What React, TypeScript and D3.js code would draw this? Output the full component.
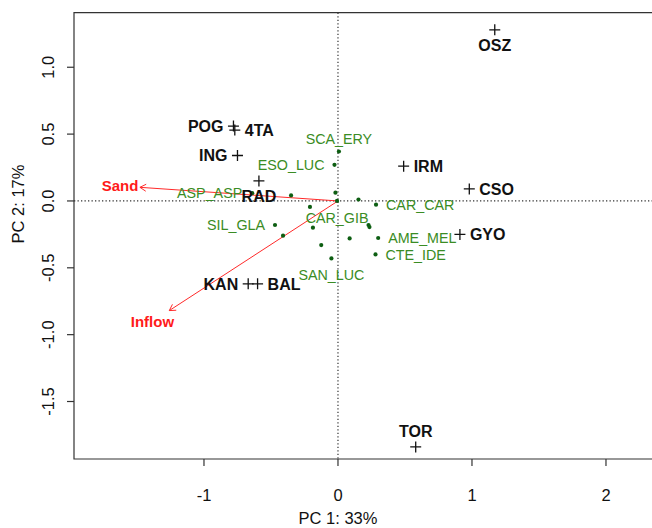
import React from "react";
import * as d3 from "d3";

// ---- data ----
const siteNames = ["OSZ", "POG", "4TA", "ING", "RAD", "IRM", "CSO", "GYO", "KAN", "BAL", "TOR"];
const siteX = [1.17, -0.78, -0.77, -0.75, -0.59, 0.49, 0.98, 0.91, -0.67, -0.60, 0.58];
const siteY = [1.28, 0.56, 0.53, 0.34, 0.15, 0.26, 0.09, -0.25, -0.62, -0.62, -1.84];
const siteLabelPos = [1, 2, 4, 2, 1, 4, 4, 4, 2, 4, 3];

const speciesNames = [
  "SCA_ERY", "ESO_LUC", "", "", "ASP_ASP", "", "", "CAR_CAR", "SIL_GLA", "", "",
  "", "", "", "AME_MEL", "", "CTE_IDE", "SAN_LUC", "CAR_GIB",
];
const speciesX = [
  0.007, -0.026, -0.019, -0.35, -0.64, 0.153, -0.209, 0.284, -0.47, -0.187, -0.41,
  0.228, 0.235, 0.087, 0.30, -0.125, 0.28, -0.049, -0.007,
];
const speciesY = [
  0.37, 0.27, 0.062, 0.041, 0.058, 0.011, -0.045, -0.028, -0.18, -0.20, -0.26,
  -0.18, -0.195, -0.28, -0.277, -0.33, -0.40, -0.43, 0.0,
];
const speciesLabelPos = [3, 2, 0, 0, 2, 0, 0, 4, 2, 0, 0, 0, 0, 0, 4, 0, 4, 1, 1];

const envNames = ["Sand", "Inflow"];
const envX = [-1.478, -1.259];
const envY = [0.102, -0.82];

const xTicks = [-1, 0, 1, 2];
const yTicks = [-1.5, -1.0, -0.5, 0.0, 0.5, 1.0];
const xTitle = "PC 1: 33%";
const yTitle = "PC 2: 17%";

// ---- layout ----
const W = 652;
const H = 528;
const FONT = "'Liberation Sans', Arial, Helvetica, sans-serif";

export default function App() {
  const unit = 134;
  const left = 74;
  const top = 12.7;
  const bottom = 459;
  const x = d3.scaleLinear().domain([-1.97, 2.45]).range([left, left + 4.42 * unit]);
  const y = d3.scaleLinear().domain([-1.93, 1.408]).range([bottom, top]);
  const right = x(2.45);

  const cross = 5.5;
  const labelOffset = (pos: number, fs: number, below: number, above: number) => {
    const base = fs * 0.36;
    if (pos === 1) return { dx: 0, dy: below + base, anchor: "middle" };
    if (pos === 3) return { dx: 0, dy: -above + base, anchor: "middle" };
    if (pos === 2) return { dx: -10, dy: base, anchor: "end" };
    return { dx: 10, dy: base, anchor: "start" };
  };

  const arrowHead = (x0: number, y0: number, x1: number, y1: number) => {
    const ang = Math.atan2(y1 - y0, x1 - x0);
    const len = 7;
    const a = Math.PI / 6;
    const p1 = [x1 - len * Math.cos(ang - a), y1 - len * Math.sin(ang - a)];
    const p2 = [x1 - len * Math.cos(ang + a), y1 - len * Math.sin(ang + a)];
    return `M${p1[0]},${p1[1]}L${x1},${y1}L${p2[0]},${p2[1]}`;
  };

  return (
    <div style={{ position: "absolute", left: 0, top: 0 }}>
      <svg width={W} height={H} style={{ display: "block", background: "#fff" }} fontFamily={FONT}>
        {/* zero lines */}
        <line x1={left} x2={right} y1={y(0)} y2={y(0)} stroke="#333" strokeWidth={1.2} strokeDasharray="1.3 2.2" />
        <line x1={x(0)} x2={x(0)} y1={top} y2={bottom} stroke="#333" strokeWidth={1.2} strokeDasharray="1.3 2.2" />

        {/* env arrows */}
        {envNames.map((n, i) => {
          const x0 = x(0), y0 = y(0), x1 = x(envX[i]), y1 = y(envY[i]);
          return (
            <g key={n}>
              <line x1={x0} y1={y0} x2={x1} y2={y1} stroke="#ff2a2a" strokeWidth={1} />
              <path d={arrowHead(x0, y0, x1, y1)} fill="none" stroke="#ff2a2a" strokeWidth={1} />
              <text x={x(envX[i] * 1.1)} y={y(envY[i] * 1.1) + 5} textAnchor="middle" fontSize={15} fontWeight="bold" fill="#ff1a1a">
                {n}
              </text>
            </g>
          );
        })}

        {/* species */}
        {speciesX.map((sx, i) => (
          <circle key={"sp" + i} cx={x(sx)} cy={y(speciesY[i])} r={2.1} fill="#0d5e12" />
        ))}
        {speciesNames.map((n, i) => {
          if (!n) return null;
          const o = labelOffset(speciesLabelPos[i], 14.3, 16.5, 12.2);
          return (
            <text key={"spl" + i} x={x(speciesX[i]) + o.dx} y={y(speciesY[i]) + o.dy} textAnchor={o.anchor as any} fontSize={14.3} fill="#3a8c24">
              {n}
            </text>
          );
        })}

        {/* sites */}
        {siteNames.map((n, i) => {
          const cx = x(siteX[i]), cy = y(siteY[i]);
          const o = labelOffset(siteLabelPos[i], 16, 15.5, 15.5);
          return (
            <g key={n}>
              <path d={`M${cx - cross},${cy}H${cx + cross}M${cx},${cy - cross}V${cy + cross}`} stroke="#111" strokeWidth={1.3} />
              <text x={cx + o.dx} y={cy + o.dy} textAnchor={o.anchor as any} fontSize={16} fontWeight="bold" fill="#111">
                {n}
              </text>
            </g>
          );
        })}

        {/* box */}
        <path d={`M${right + 2},${top}H${left}V${bottom}H${right + 2}`} fill="none" stroke="#333" strokeWidth={1.2} />

        {/* x axis */}
        {xTicks.map((t) => (
          <g key={"xt" + t}>
            <line x1={x(t)} x2={x(t)} y1={bottom} y2={bottom + 7} stroke="#333" strokeWidth={1.2} />
            <text x={x(t)} y={500.5} textAnchor="middle" fontSize={16.5} fill="#111">
              {t < 0 ? "-" + Math.abs(t) : String(t)}
            </text>
          </g>
        ))}
        <text x={x(0)} y={524} textAnchor="middle" fontSize={16.5} fill="#111">{xTitle}</text>

        {/* y axis */}
        {yTicks.map((t) => (
          <g key={"yt" + t}>
            <line x1={left - 7} x2={left} y1={y(t)} y2={y(t)} stroke="#333" strokeWidth={1.2} />
            <text transform={`translate(54,${y(t)}) rotate(-90)`} textAnchor="middle" fontSize={16.5} fill="#111">
              {(t < 0 ? "-" : "") + Math.abs(t).toFixed(1)}
            </text>
          </g>
        ))}
        <text transform={`translate(24,204) rotate(-90)`} textAnchor="middle" fontSize={16.5} fill="#111">{yTitle}</text>
      </svg>
    </div>
  );
}
